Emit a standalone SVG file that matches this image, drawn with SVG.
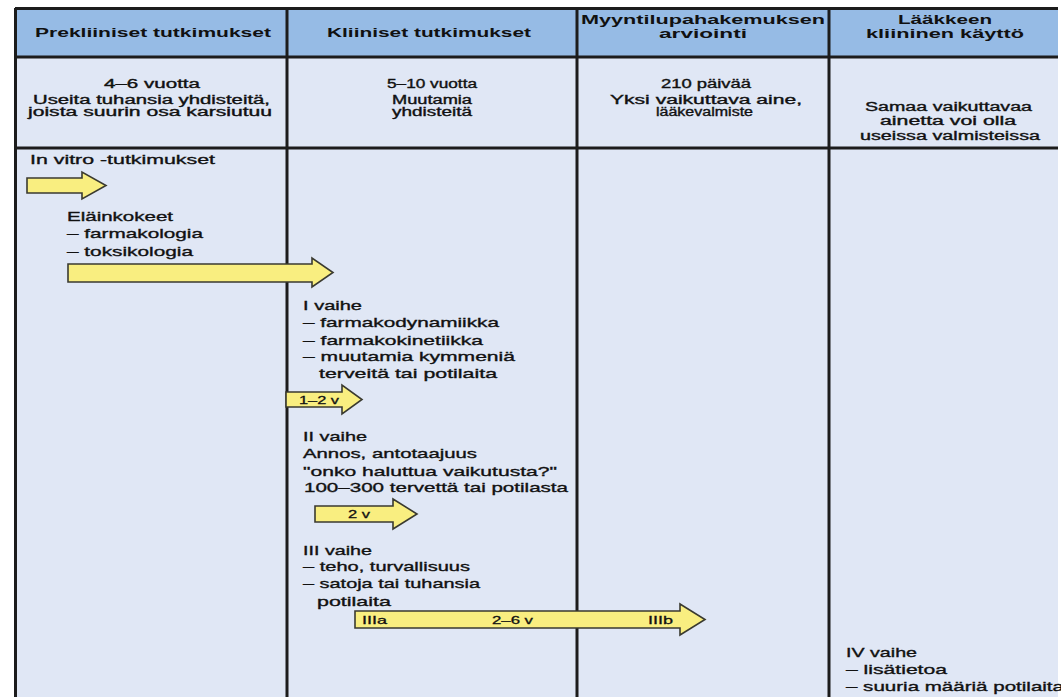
<svg xmlns="http://www.w3.org/2000/svg" width="1061" height="697" viewBox="0 0 1061 697">
<style>
.hdr{font-family:"Liberation Sans",Arial,sans-serif;font-size:12.5px;font-weight:bold;fill:#111;}
.sub{font-family:"Liberation Sans",Arial,sans-serif;font-size:12px;fill:#111;stroke:#111;stroke-width:0.35;}
.txt{font-family:"Liberation Sans",Arial,sans-serif;font-size:13.5px;fill:#111;stroke:#111;stroke-width:0.35;}
.lbl{font-family:"Liberation Sans",Arial,sans-serif;font-size:11.5px;fill:#111;stroke:#111;stroke-width:0.3;}
.grid{stroke:#1c1c1c;stroke-width:3;fill:none;}
.arrow{fill:#f9ee80;stroke:#3a3a30;stroke-width:1.6;stroke-linejoin:miter;}
</style>
<rect width="1061" height="697" fill="#ffffff"/>
<g id="table">
<rect x="15" y="8" width="1043" height="49" fill="#96bbe5"/>
<rect x="15" y="57" width="1043" height="640" fill="#e0e7f5"/>
<path class="grid" d="M15,8.5H1058M15,57H1058M15,148H1058M15.5,8V697M287,8V697M577,8V697M829,8V697"/>
</g>
<g id="col-prekliiniset">
<text class="hdr" x="35" y="37" textLength="236" lengthAdjust="spacingAndGlyphs">Prekliiniset tutkimukset</text>
<text class="sub" x="104" y="88" textLength="96" lengthAdjust="spacingAndGlyphs">4–6 vuotta</text>
<text class="sub" x="33" y="104" textLength="237" lengthAdjust="spacingAndGlyphs">Useita tuhansia yhdisteitä,</text>
<text class="sub" x="28" y="116" textLength="244" lengthAdjust="spacingAndGlyphs">joista suurin osa karsiutuu</text>
</g>
<g id="col-kliiniset">
<text class="hdr" x="327" y="37" textLength="204" lengthAdjust="spacingAndGlyphs">Kliiniset tutkimukset</text>
<text class="sub" x="387" y="88" textLength="90" lengthAdjust="spacingAndGlyphs">5–10 vuotta</text>
<text class="sub" x="392" y="104" textLength="80" lengthAdjust="spacingAndGlyphs">Muutamia</text>
<text class="sub" x="392" y="116" textLength="80" lengthAdjust="spacingAndGlyphs">yhdisteitä</text>
</g>
<g id="col-myyntilupa">
<text class="hdr" x="581" y="24" textLength="244" lengthAdjust="spacingAndGlyphs">Myyntilupahakemuksen</text>
<text class="hdr" x="659" y="38" textLength="88" lengthAdjust="spacingAndGlyphs">arviointi</text>
<text class="sub" x="661" y="88" textLength="90" lengthAdjust="spacingAndGlyphs">210 päivää</text>
<text class="sub" x="610" y="104" textLength="192" lengthAdjust="spacingAndGlyphs">Yksi vaikuttava aine,</text>
<text class="sub" x="656" y="116" textLength="97" lengthAdjust="spacingAndGlyphs">lääkevalmiste</text>
</g>
<g id="col-kaytto">
<text class="hdr" x="898" y="24" textLength="94" lengthAdjust="spacingAndGlyphs">Lääkkeen</text>
<text class="hdr" x="866" y="38" textLength="158" lengthAdjust="spacingAndGlyphs">kliininen käyttö</text>
<text class="sub" x="865" y="111" textLength="167" lengthAdjust="spacingAndGlyphs">Samaa vaikuttavaa</text>
<text class="sub" x="880" y="125" textLength="136" lengthAdjust="spacingAndGlyphs">ainetta voi olla</text>
<text class="sub" x="860" y="140" textLength="180" lengthAdjust="spacingAndGlyphs">useissa valmisteissa</text>
</g>
<g id="invitro">
<text class="txt" x="30" y="164" textLength="185" lengthAdjust="spacingAndGlyphs">In vitro -tutkimukset</text>
</g>
<g id="elainkokeet">
<text class="txt" x="67" y="221" textLength="106" lengthAdjust="spacingAndGlyphs">Eläinkokeet</text>
<text class="txt" x="67" y="238" textLength="136" lengthAdjust="spacingAndGlyphs">– farmakologia</text>
<text class="txt" x="67" y="256" textLength="126" lengthAdjust="spacingAndGlyphs">– toksikologia</text>
</g>
<g id="vaihe1">
<text class="txt" x="303" y="310" textLength="59" lengthAdjust="spacingAndGlyphs">I vaihe</text>
<text class="txt" x="303" y="327" textLength="196" lengthAdjust="spacingAndGlyphs">– farmakodynamiikka</text>
<text class="txt" x="303" y="345" textLength="180" lengthAdjust="spacingAndGlyphs">– farmakokinetiikka</text>
<text class="txt" x="303" y="361" textLength="212" lengthAdjust="spacingAndGlyphs">– muutamia kymmeniä</text>
<text class="txt" x="319" y="378" textLength="178" lengthAdjust="spacingAndGlyphs">terveitä tai potilaita</text>
</g>
<g id="vaihe2">
<text class="txt" x="303" y="441" textLength="64" lengthAdjust="spacingAndGlyphs">II vaihe</text>
<text class="txt" x="303" y="458" textLength="174" lengthAdjust="spacingAndGlyphs">Annos, antotaajuus</text>
<text class="txt" x="303" y="476" textLength="254" lengthAdjust="spacingAndGlyphs">"onko haluttua vaikutusta?"</text>
<text class="txt" x="304" y="492" textLength="264" lengthAdjust="spacingAndGlyphs">100–300 tervettä tai potilasta</text>
</g>
<g id="vaihe3">
<text class="txt" x="303" y="555" textLength="69" lengthAdjust="spacingAndGlyphs">III vaihe</text>
<text class="txt" x="303" y="571" textLength="167" lengthAdjust="spacingAndGlyphs">– teho, turvallisuus</text>
<text class="txt" x="303" y="588" textLength="177" lengthAdjust="spacingAndGlyphs">– satoja tai tuhansia</text>
<text class="txt" x="317" y="606" textLength="74" lengthAdjust="spacingAndGlyphs">potilaita</text>
</g>
<g id="vaihe4">
<text class="txt" x="846" y="657" textLength="71" lengthAdjust="spacingAndGlyphs">IV vaihe</text>
<text class="txt" x="846" y="674" textLength="101" lengthAdjust="spacingAndGlyphs">– lisätietoa</text>
<text class="txt" x="846" y="691" textLength="218" lengthAdjust="spacingAndGlyphs">– suuria määriä potilaita</text>
</g>
<g id="connectors">
<polygon class="arrow" points="27,178 82,178 82,172 106,185.5 82,199 82,193 27,193"/>
<polygon class="arrow" points="68,264 312,264 312,258 333,272.5 312,287 312,282 68,282"/>
<polygon class="arrow" points="286,392 342,392 342,385 362,399.5 342,414 342,407 286,407"/>
<polygon class="arrow" points="315,506 393,506 393,499 417,514 393,529 393,522 315,522"/>
<polygon class="arrow" points="355,611 680,611 680,604 705,619.5 680,635 680,628 355,628"/>
<text class="lbl" x="299" y="403.5" textLength="40" lengthAdjust="spacingAndGlyphs">1–2 v</text>
<text class="lbl" x="348" y="518" textLength="22" lengthAdjust="spacingAndGlyphs">2 v</text>
<text class="lbl" x="362" y="623.5" textLength="25" lengthAdjust="spacingAndGlyphs">IIIa</text>
<text class="lbl" x="492" y="623.5" textLength="41" lengthAdjust="spacingAndGlyphs">2–6 v</text>
<text class="lbl" x="648" y="623.5" textLength="25" lengthAdjust="spacingAndGlyphs">IIIb</text>
</g>
</svg>
